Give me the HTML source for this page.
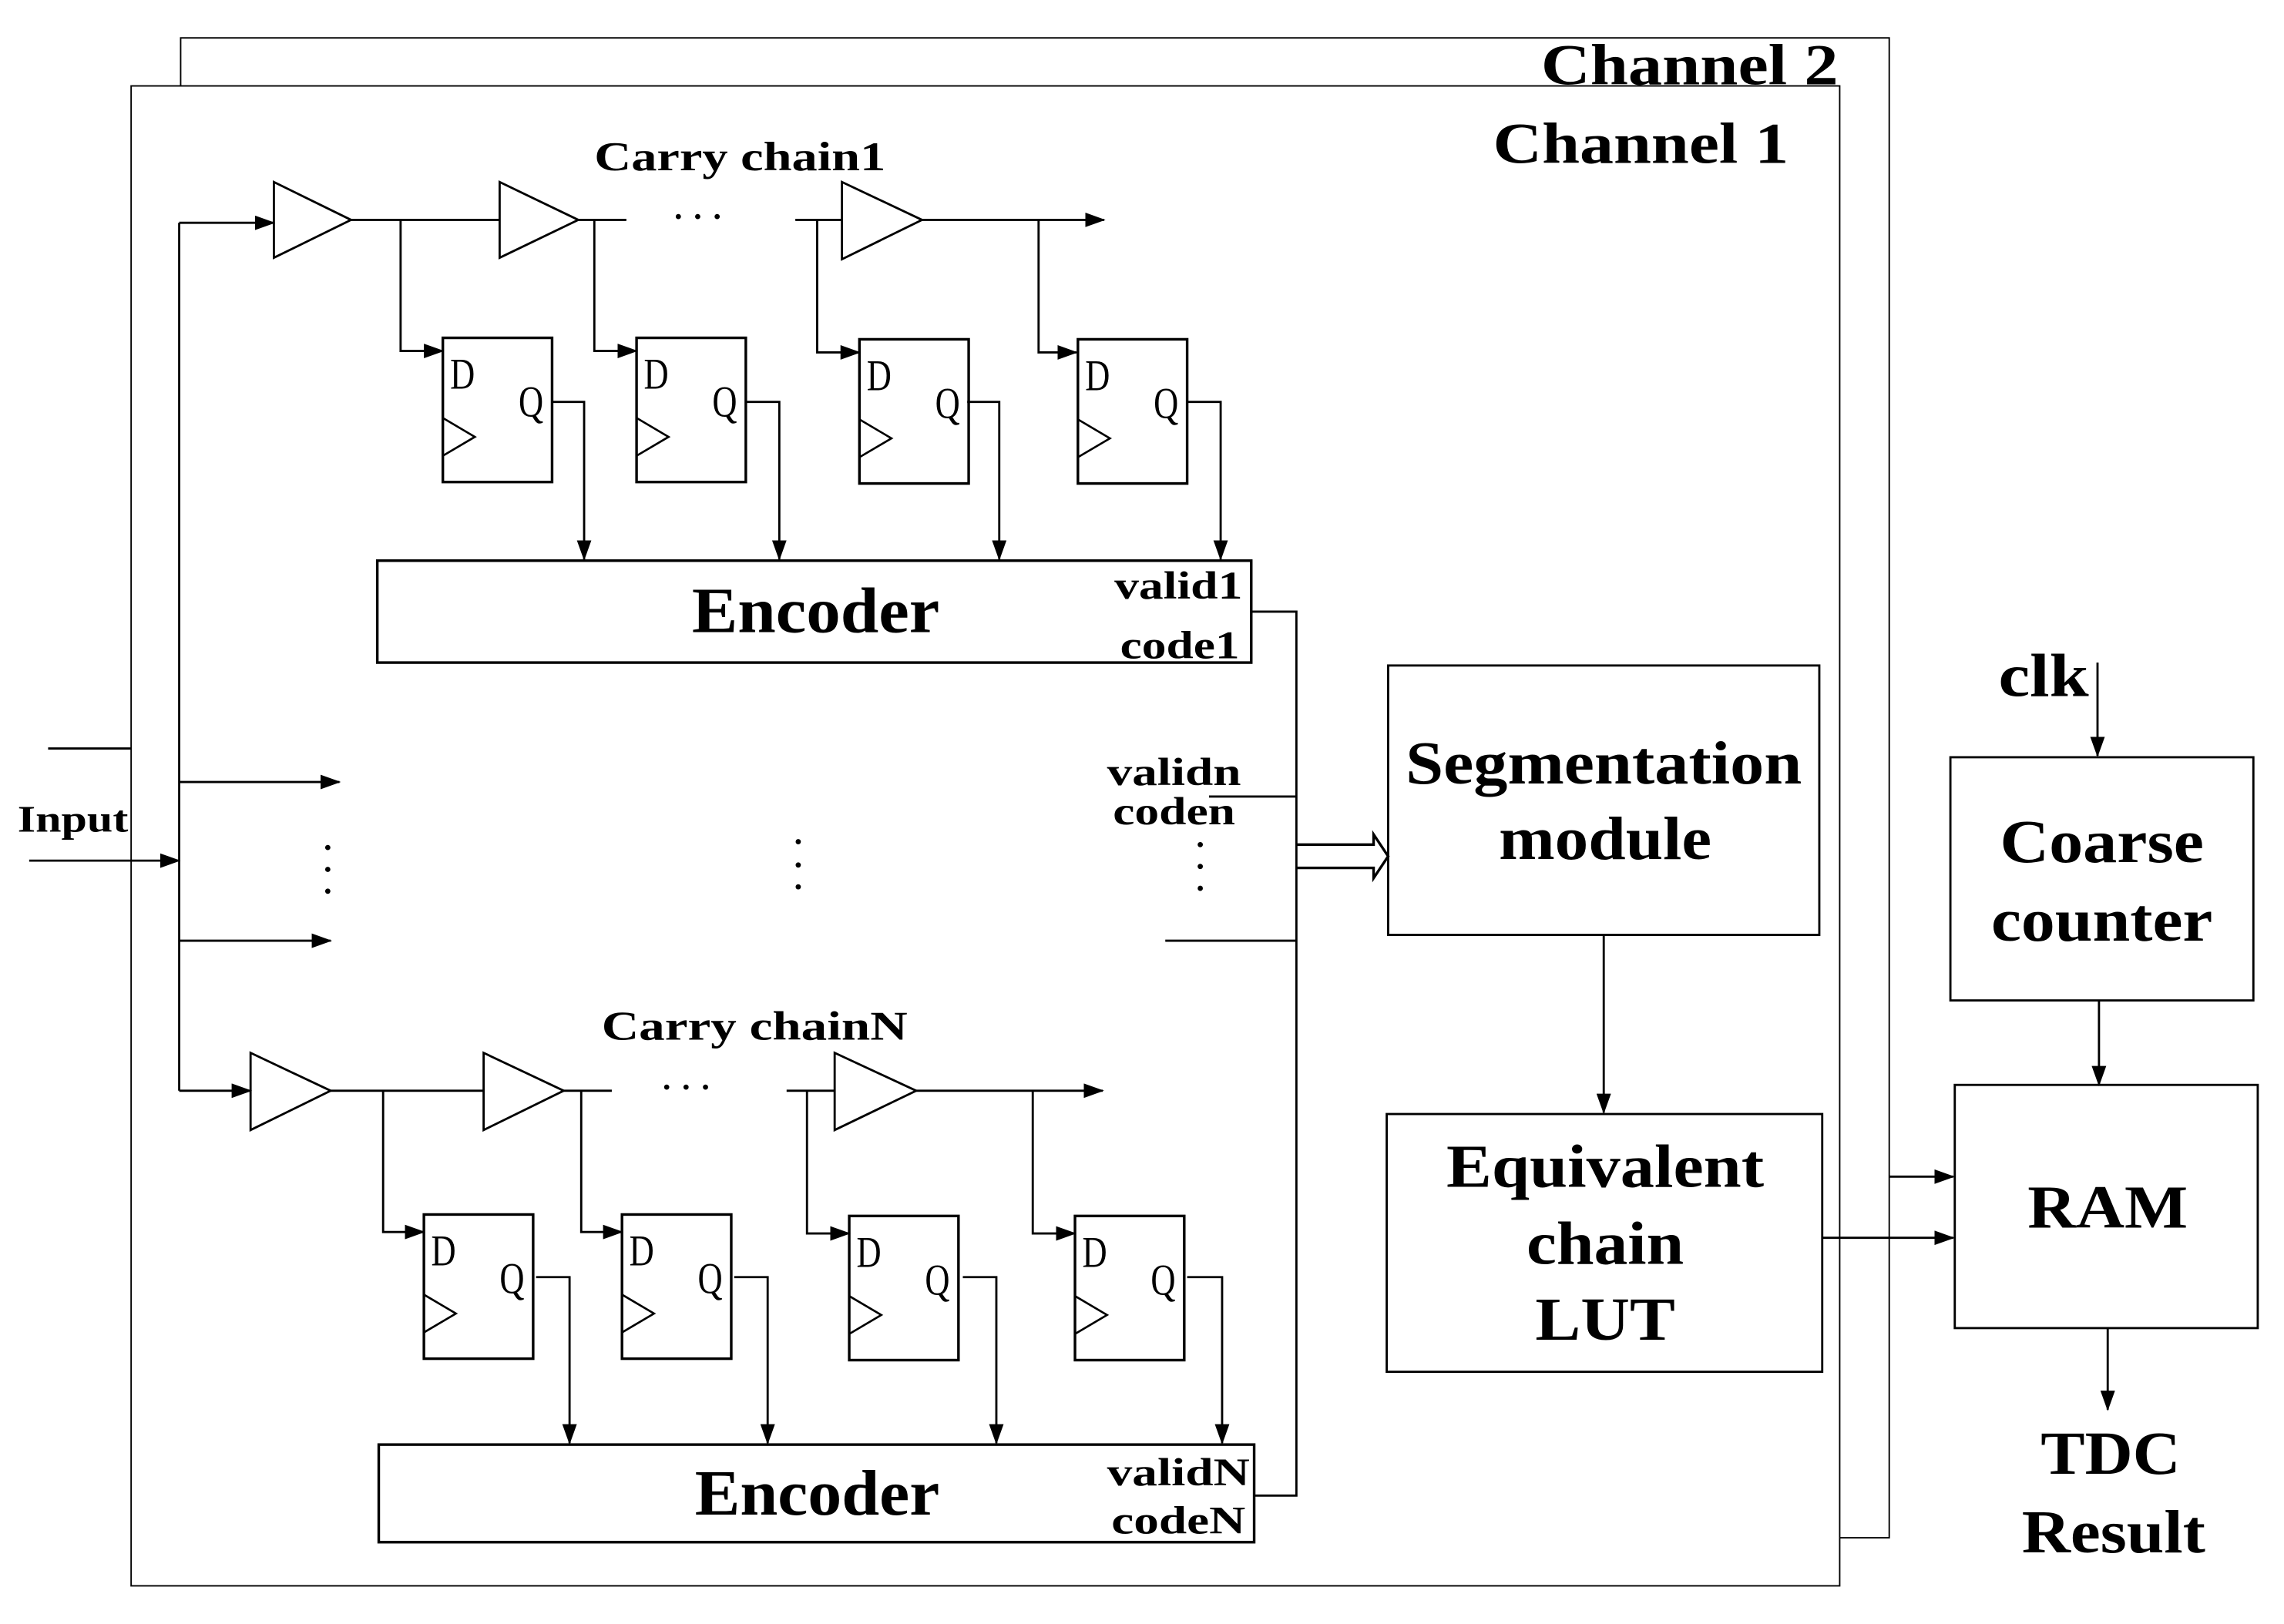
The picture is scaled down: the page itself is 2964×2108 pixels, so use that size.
<!DOCTYPE html>
<html><head><meta charset="utf-8"><style>html,body{margin:0;padding:0;background:#fff}svg{display:block}</style></head><body>
<svg width="2964" height="2108" viewBox="0 0 1568 1115.2" xmlns="http://www.w3.org/2000/svg" font-family="Liberation Serif, serif" font-weight="bold">
<defs>
<marker id="a" markerWidth="14" markerHeight="10" refX="13" refY="5" orient="auto" markerUnits="userSpaceOnUse"><path d="M0,0 L14,5 L0,10 Z" fill="#000"/></marker>
<g id="ff">
<rect x="0" y="0" width="75" height="99" fill="none" stroke="#000" stroke-width="1.8"/>
<path d="M0,55 L22,68 L0,81" fill="none" stroke="#000" stroke-width="1.4"/>
<text x="5" y="35" font-size="30" font-weight="normal" textLength="17" lengthAdjust="spacingAndGlyphs">D</text>
<text x="52" y="54" font-size="30" font-weight="normal" textLength="17" lengthAdjust="spacingAndGlyphs">Q</text>
</g>
</defs>
<rect width="1568" height="1116" fill="#fff"/>
<g fill="none" stroke="#000" stroke-width="1">
<polyline points="124,59 124,26 1297,26 1297,1056 1263,1056"/>
<rect x="90" y="59" width="1173" height="1030"/>
</g>
<text x="1262" y="58" font-size="40" text-anchor="end" textLength="204" lengthAdjust="spacingAndGlyphs">Channel 2</text>
<text x="1228" y="112" font-size="40" text-anchor="end" textLength="203" lengthAdjust="spacingAndGlyphs">Channel 1</text>

<g fill="none" stroke="#000" stroke-width="1.5">
<line x1="123" y1="153" x2="123" y2="749"/>
<line x1="33" y1="514" x2="90" y2="514"/>
<line x1="20" y1="591" x2="123" y2="591" marker-end="url(#a)"/>
<line x1="123" y1="537" x2="233" y2="537" marker-end="url(#a)"/>
<line x1="123" y1="646" x2="227" y2="646" marker-end="url(#a)"/>
<line x1="123" y1="153" x2="188" y2="153" marker-end="url(#a)"/>
<path d="M188,125 L241,151 L188,177 Z"/>
<line x1="241" y1="151" x2="343" y2="151"/>
<path d="M343,125 L397,151 L343,177 Z"/>
<line x1="397" y1="151" x2="430" y2="151"/>
<line x1="546" y1="151" x2="578" y2="151"/>
<path d="M578,125 L633,151 L578,178 Z"/>
<line x1="633" y1="151" x2="758" y2="151" marker-end="url(#a)"/>
<polyline points="275,151 275,241 304,241" marker-end="url(#a)"/>
<polyline points="408,151 408,241 437,241" marker-end="url(#a)"/>
<polyline points="561,151 561,242 590,242" marker-end="url(#a)"/>
<polyline points="713,151 713,242 739,242" marker-end="url(#a)"/>
<polyline points="379,276 401,276 401,384" marker-end="url(#a)"/>
<polyline points="512,276 535,276 535,384" marker-end="url(#a)"/>
<polyline points="664,276 686,276 686,384" marker-end="url(#a)"/>
<polyline points="815,276 838,276 838,384" marker-end="url(#a)"/>
<rect x="259" y="385" width="600" height="70" stroke-width="1.8"/>
<polyline points="123,749 172,749" marker-end="url(#a)"/>
<path d="M172,723 L227,749 L172,776 Z"/>
<line x1="227" y1="749" x2="332" y2="749"/>
<path d="M332,723 L387,749 L332,776 Z"/>
<line x1="387" y1="749" x2="420" y2="749"/>
<line x1="540" y1="749" x2="573" y2="749"/>
<path d="M573,723 L629,749 L573,776 Z"/>
<line x1="629" y1="749" x2="757" y2="749" marker-end="url(#a)"/>
<polyline points="263,749 263,846 291,846" marker-end="url(#a)"/>
<polyline points="399,749 399,846 427,846" marker-end="url(#a)"/>
<polyline points="554,749 554,847 583,847" marker-end="url(#a)"/>
<polyline points="709,749 709,847 738,847" marker-end="url(#a)"/>
<polyline points="368,877 391,877 391,991" marker-end="url(#a)"/>
<polyline points="504,877 527,877 527,991" marker-end="url(#a)"/>
<polyline points="661,877 684,877 684,991" marker-end="url(#a)"/>
<polyline points="815,877 839,877 839,991" marker-end="url(#a)"/>
<rect x="260" y="992" width="601" height="67" stroke-width="1.8"/>
<polyline points="859,420 890,420 890,1027 861,1027"/>
<line x1="830" y1="547" x2="890" y2="547"/>
<line x1="800" y1="646" x2="890" y2="646"/>
<path d="M890,580 L943,580 L943,573 L953,588 L943,603 L943,596 L890,596" stroke-width="1.8"/>
<rect x="953" y="457" width="296" height="185"/>
<line x1="1101" y1="642" x2="1101" y2="764" marker-end="url(#a)"/>
<rect x="952" y="765" width="299" height="177"/>
<line x1="1251" y1="850" x2="1341" y2="850" marker-end="url(#a)"/>
<line x1="1297" y1="808" x2="1341" y2="808" marker-end="url(#a)"/>
<rect x="1339" y="520" width="208" height="167"/>
<line x1="1440" y1="455" x2="1440" y2="519" marker-end="url(#a)"/>
<line x1="1441" y1="687" x2="1441" y2="745" marker-end="url(#a)"/>
<rect x="1342" y="745" width="208" height="167"/>
<line x1="1447" y1="912" x2="1447" y2="968" marker-end="url(#a)"/>
</g>
<use href="#ff" x="304" y="232"/><use href="#ff" x="437" y="232"/><use href="#ff" x="590" y="233"/><use href="#ff" x="740" y="233"/>
<use href="#ff" x="291" y="834"/><use href="#ff" x="427" y="834"/><use href="#ff" x="583" y="835"/><use href="#ff" x="738" y="835"/>
<g font-size="28" font-weight="bold">
<text x="408" y="117" textLength="200" lengthAdjust="spacingAndGlyphs">Carry chain1</text>
<text x="413" y="714" textLength="210" lengthAdjust="spacingAndGlyphs">Carry chainN</text>
<text x="12" y="571" font-size="26" textLength="76" lengthAdjust="spacingAndGlyphs">Input</text>
</g>
<g font-size="27" font-weight="bold" text-anchor="end">
<text x="853" y="411" textLength="88" lengthAdjust="spacingAndGlyphs">valid1</text>
<text x="851" y="452" textLength="82" lengthAdjust="spacingAndGlyphs">code1</text>
<text x="852" y="539" textLength="92" lengthAdjust="spacingAndGlyphs">validn</text>
<text x="848" y="566" textLength="84" lengthAdjust="spacingAndGlyphs">coden</text>
<text x="858" y="1020" textLength="98" lengthAdjust="spacingAndGlyphs">validN</text>
<text x="855" y="1053" textLength="92" lengthAdjust="spacingAndGlyphs">codeN</text>
</g>
<g font-size="22" text-anchor="middle">
<text x="482" y="156" letter-spacing="6">···</text>
<text x="474" y="754" letter-spacing="6">···</text>
</g>
<g fill="#000">
<circle cx="225" cy="582" r="1.8"/><circle cx="225" cy="597" r="1.8"/><circle cx="225" cy="612" r="1.8"/>
<circle cx="548" cy="578" r="1.8"/><circle cx="548" cy="594" r="1.8"/><circle cx="548" cy="609" r="1.8"/>
<circle cx="824" cy="580" r="1.8"/><circle cx="824" cy="595" r="1.8"/><circle cx="824" cy="610" r="1.8"/>
</g>
<g font-size="42" text-anchor="middle">
<text x="560" y="434" font-size="44" textLength="170" lengthAdjust="spacingAndGlyphs">Encoder</text>
<text x="561" y="1040" font-size="44" textLength="168" lengthAdjust="spacingAndGlyphs">Encoder</text>
<text x="1101" y="538" textLength="272" lengthAdjust="spacingAndGlyphs">Segmentation</text>
<text x="1102" y="590" textLength="146" lengthAdjust="spacingAndGlyphs">module</text>
<text x="1102" y="815" textLength="218" lengthAdjust="spacingAndGlyphs">Equivalent</text>
<text x="1102" y="868" textLength="108" lengthAdjust="spacingAndGlyphs">chain</text>
<text x="1102" y="920" textLength="96" lengthAdjust="spacingAndGlyphs">LUT</text>
<text x="1443" y="592" textLength="140" lengthAdjust="spacingAndGlyphs">Coarse</text>
<text x="1443" y="646" textLength="152" lengthAdjust="spacingAndGlyphs">counter</text>
<text x="1447" y="843" textLength="110" lengthAdjust="spacingAndGlyphs">RAM</text>
<text x="1449" y="1012" textLength="96" lengthAdjust="spacingAndGlyphs">TDC</text>
<text x="1451" y="1066" textLength="126" lengthAdjust="spacingAndGlyphs">Result</text>
<text x="1403" y="478" textLength="62" lengthAdjust="spacingAndGlyphs">clk</text>
</g>
</svg>
</body></html>
